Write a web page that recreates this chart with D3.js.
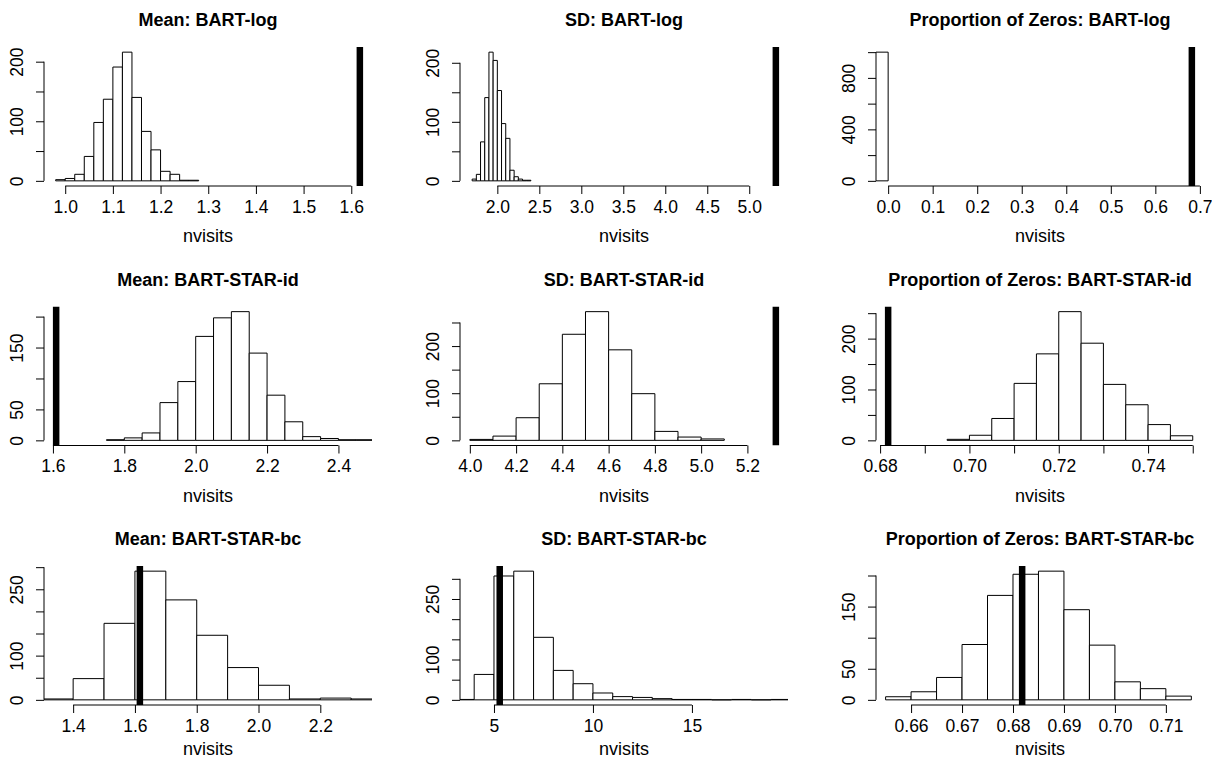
<!DOCTYPE html>
<html><head><meta charset="utf-8">
<script src="https://cdn.jsdelivr.net/npm/d3@7"></script>
<style>
body{margin:0;background:#fff}
svg{display:block}
text{font-family:"Liberation Sans",Arial,Helvetica,sans-serif;fill:#000}
</style>
</head><body>
<svg id="chart" width="1212" height="763"></svg>
<script>
// ---------- data ----------
const titles = [
  "Mean: BART-log", "SD: BART-log", "Proportion of Zeros: BART-log",
  "Mean: BART-STAR-id", "SD: BART-STAR-id", "Proportion of Zeros: BART-STAR-id",
  "Mean: BART-STAR-bc", "SD: BART-STAR-bc", "Proportion of Zeros: BART-STAR-bc"
];
const xLabel = "nvisits";

const breaks1 = [0.98,1.00,1.02,1.04,1.06,1.08,1.10,1.12,1.14,1.16,1.18,1.20,1.22,1.24,1.26,1.28];
const counts1 = [2,4,11,41,98,137,191,216,140,83,52,16,11,1,1];
const breaks2 = [1.70,1.75,1.80,1.85,1.90,1.95,2.00,2.05,2.10,2.15,2.20,2.25,2.30,2.35,2.40];
const counts2 = [3,11,66,141,218,204,153,97,72,18,7,3,1,1];
const breaks3 = [-0.1,0.0];
const counts3 = [1000];
const breaks4 = [1.75,1.80,1.85,1.90,1.95,2.00,2.05,2.10,2.15,2.20,2.25,2.30,2.35,2.40,2.45,2.50];
const counts4 = [1,4,12,61,95,168,198,208,141,73,30,6,3,1,1];
const breaks5 = [4.0,4.1,4.2,4.3,4.4,4.5,4.6,4.7,4.8,4.9,5.0,5.1];
const counts5 = [2,9,48,120,225,273,192,99,19,7,3];
const breaks6 = [0.695,0.700,0.705,0.710,0.715,0.720,0.725,0.730,0.735,0.740,0.745,0.750];
const counts6 = [2,10,43,112,170,253,191,110,70,31,9];
const breaks7 = [1.3,1.4,1.5,1.6,1.7,1.8,1.9,2.0,2.1,2.2,2.3,2.4];
const counts7 = [2,48,173,291,226,146,73,33,2,4,2];
const breaks8 = [3,4,5,6,7,8,9,10,11,12,13,14,15,16,17,18,19,20];
const counts8 = [1,63,307,319,155,73,40,17,8,6,3,1,1,0,1,0,1];
const breaks9 = [0.655,0.660,0.665,0.670,0.675,0.680,0.685,0.690,0.695,0.700,0.705,0.710,0.715];
const counts9 = [5,13,36,89,168,202,207,145,88,29,18,6];

const allBreaks = [breaks1,breaks2,breaks3,breaks4,breaks5,breaks6,breaks7,breaks8,breaks9];
const allCounts = [counts1,counts2,counts3,counts4,counts5,counts6,counts7,counts8,counts9];

// observed statistic (thick vertical line)
const observed = [1.618, 5.317, 0.682, 1.609, 5.323, 0.6818, 1.616, 5.29, 0.6818];
// x range of plotted data (before R's 4% expansion)
const xRanges = [
  [0.981,1.618],[1.70,5.317],[0,0.682],
  [1.609,2.46],[4.01,5.323],[0.6818,0.7498],
  [1.345,2.328],[3.897,19.24],[0.6555,0.7151]
];
const xTicks = [
  [1.0,1.1,1.2,1.3,1.4,1.5,1.6],
  [2.0,2.5,3.0,3.5,4.0,4.5,5.0],
  [0.0,0.1,0.2,0.3,0.4,0.5,0.6,0.7],
  [1.6,1.8,2.0,2.2,2.4],
  [4.0,4.2,4.4,4.6,4.8,5.0,5.2],
  [0.68,0.69,0.70,0.71,0.72,0.73,0.74,0.75],
  [1.4,1.6,1.8,2.0,2.2],
  [5,10,15],
  [0.66,0.67,0.68,0.69,0.70,0.71]
];
const xTickLabels = [
  ["1.0","1.1","1.2","1.3","1.4","1.5","1.6"],
  ["2.0","2.5","3.0","3.5","4.0","4.5","5.0"],
  ["0.0","0.1","0.2","0.3","0.4","0.5","0.6","0.7"],
  ["1.6","1.8","2.0","2.2","2.4"],
  ["4.0","4.2","4.4","4.6","4.8","5.0","5.2"],
  ["0.68","","0.70","","0.72","","0.74",""],
  ["1.4","1.6","1.8","2.0","2.2"],
  ["5","10","15"],
  ["0.66","0.67","0.68","0.69","0.70","0.71"]
];
const yTicks = [
  [0,50,100,150,200],
  [0,50,100,150,200],
  [0,200,400,600,800,1000],
  [0,50,100,150,200],
  [0,50,100,150,200,250],
  [0,50,100,150,200,250],
  [0,50,100,150,200,250,300],
  [0,50,100,150,200,250,300],
  [0,50,100,150,200]
];
const yTickLabels = [
  ["0","","100","","200"],
  ["0","","100","","200"],
  ["0","","400","","800",""],
  ["0","50","","150",""],
  ["0","","100","","200",""],
  ["0","","100","","200",""],
  ["0","","100","","","250",""],
  ["0","","100","","","250",""],
  ["0","50","","150",""]
];

// ---------- layout ----------
const colLeft = [44, 460, 876];
const rowTop = [47, 306.5, 566];
const W = 328, H = 139;
const tickLen = 8;
const tickFont = 17.5;

const svg = d3.select("#chart");
svg.append("rect").attr("width",1212).attr("height",763).attr("fill","#fff");

titles.forEach((title, i) => {
  const left = colLeft[i % 3], top = rowTop[Math.floor(i / 3)];
  const [a, b] = xRanges[i];
  const pad = 0.04 * (b - a);
  const x = d3.scaleLinear().domain([a - pad, b + pad]).range([left, left + W]);
  const M = d3.max(allCounts[i]);
  const y = d3.scaleLinear().domain([-0.04 * M, 1.04 * M]).range([top + H, top]);

  const g = svg.append("g");
  const clipId = "clip" + i;
  g.append("clipPath").attr("id", clipId)
    .append("rect").attr("x", left).attr("y", top).attr("width", W).attr("height", H);

  const plot = g.append("g").attr("clip-path", `url(#${clipId})`);
  const br = allBreaks[i];
  plot.selectAll("path.bar").data(allCounts[i]).join("path")
    .attr("class", "bar")
    .attr("d", (d, j) => {
      const x0 = x(br[j]), x1 = x(br[j + 1]), y0 = y(0), y1 = y(d);
      return `M${x0},${y0}V${y1}H${x1}V${y0}Z`;
    })
    .attr("fill", "#fff").attr("stroke", "#000").attr("stroke-width", 1);

  plot.append("rect")
    .attr("x", x(observed[i]) - 3.25).attr("width", 6.5)
    .attr("y", top).attr("height", H)
    .attr("fill", "#000");

  // x axis
  const xt = xTicks[i];
  const xa = g.append("g").attr("transform", `translate(0,${top + H})`)
    .call(d3.axisBottom(x).tickValues(xt).tickSize(tickLen).tickSizeOuter(0)
      .tickFormat((d, j) => xTickLabels[i][j]));
  xa.attr("font-family", null).attr("font-size", null);
  xa.select(".domain").remove();
  xa.append("line").attr("x1", x(xt[0])).attr("x2", x(xt[xt.length - 1]))
    .attr("y1", 0).attr("y2", 0).attr("stroke", "#000");
  xa.selectAll(".tick line").attr("stroke", "#000");
  xa.selectAll(".tick text").attr("y", 26.7).attr("dy", null)
    .attr("font-size", tickFont);

  // y axis
  const yt = yTicks[i];
  const ya = g.append("g").attr("transform", `translate(${left},0)`)
    .call(d3.axisLeft(y).tickValues(yt).tickSize(tickLen).tickSizeOuter(0)
      .tickFormat((d, j) => yTickLabels[i][j]));
  ya.attr("font-family", null).attr("font-size", null);
  ya.select(".domain").remove();
  ya.append("line").attr("y1", y(yt[0])).attr("y2", y(yt[yt.length - 1]))
    .attr("x1", 0).attr("x2", 0).attr("stroke", "#000");
  ya.selectAll(".tick line").attr("stroke", "#000");
  ya.selectAll(".tick text")
    .attr("x", 0).attr("y", 0).attr("dy", null)
    .attr("text-anchor", "middle")
    .attr("transform", "translate(-21,0) rotate(-90)")
    .attr("font-size", tickFont);

  // title
  g.append("text").attr("x", left + W / 2).attr("y", top - 21)
    .attr("text-anchor", "middle").attr("font-weight", "bold").attr("font-size", 18)
    .text(title);
  // x label
  g.append("text").attr("x", left + W / 2).attr("y", Math.min(top + H + 56, 755))
    .attr("text-anchor", "middle").attr("font-size", 18)
    .text(xLabel);
});
</script>
</body></html>
